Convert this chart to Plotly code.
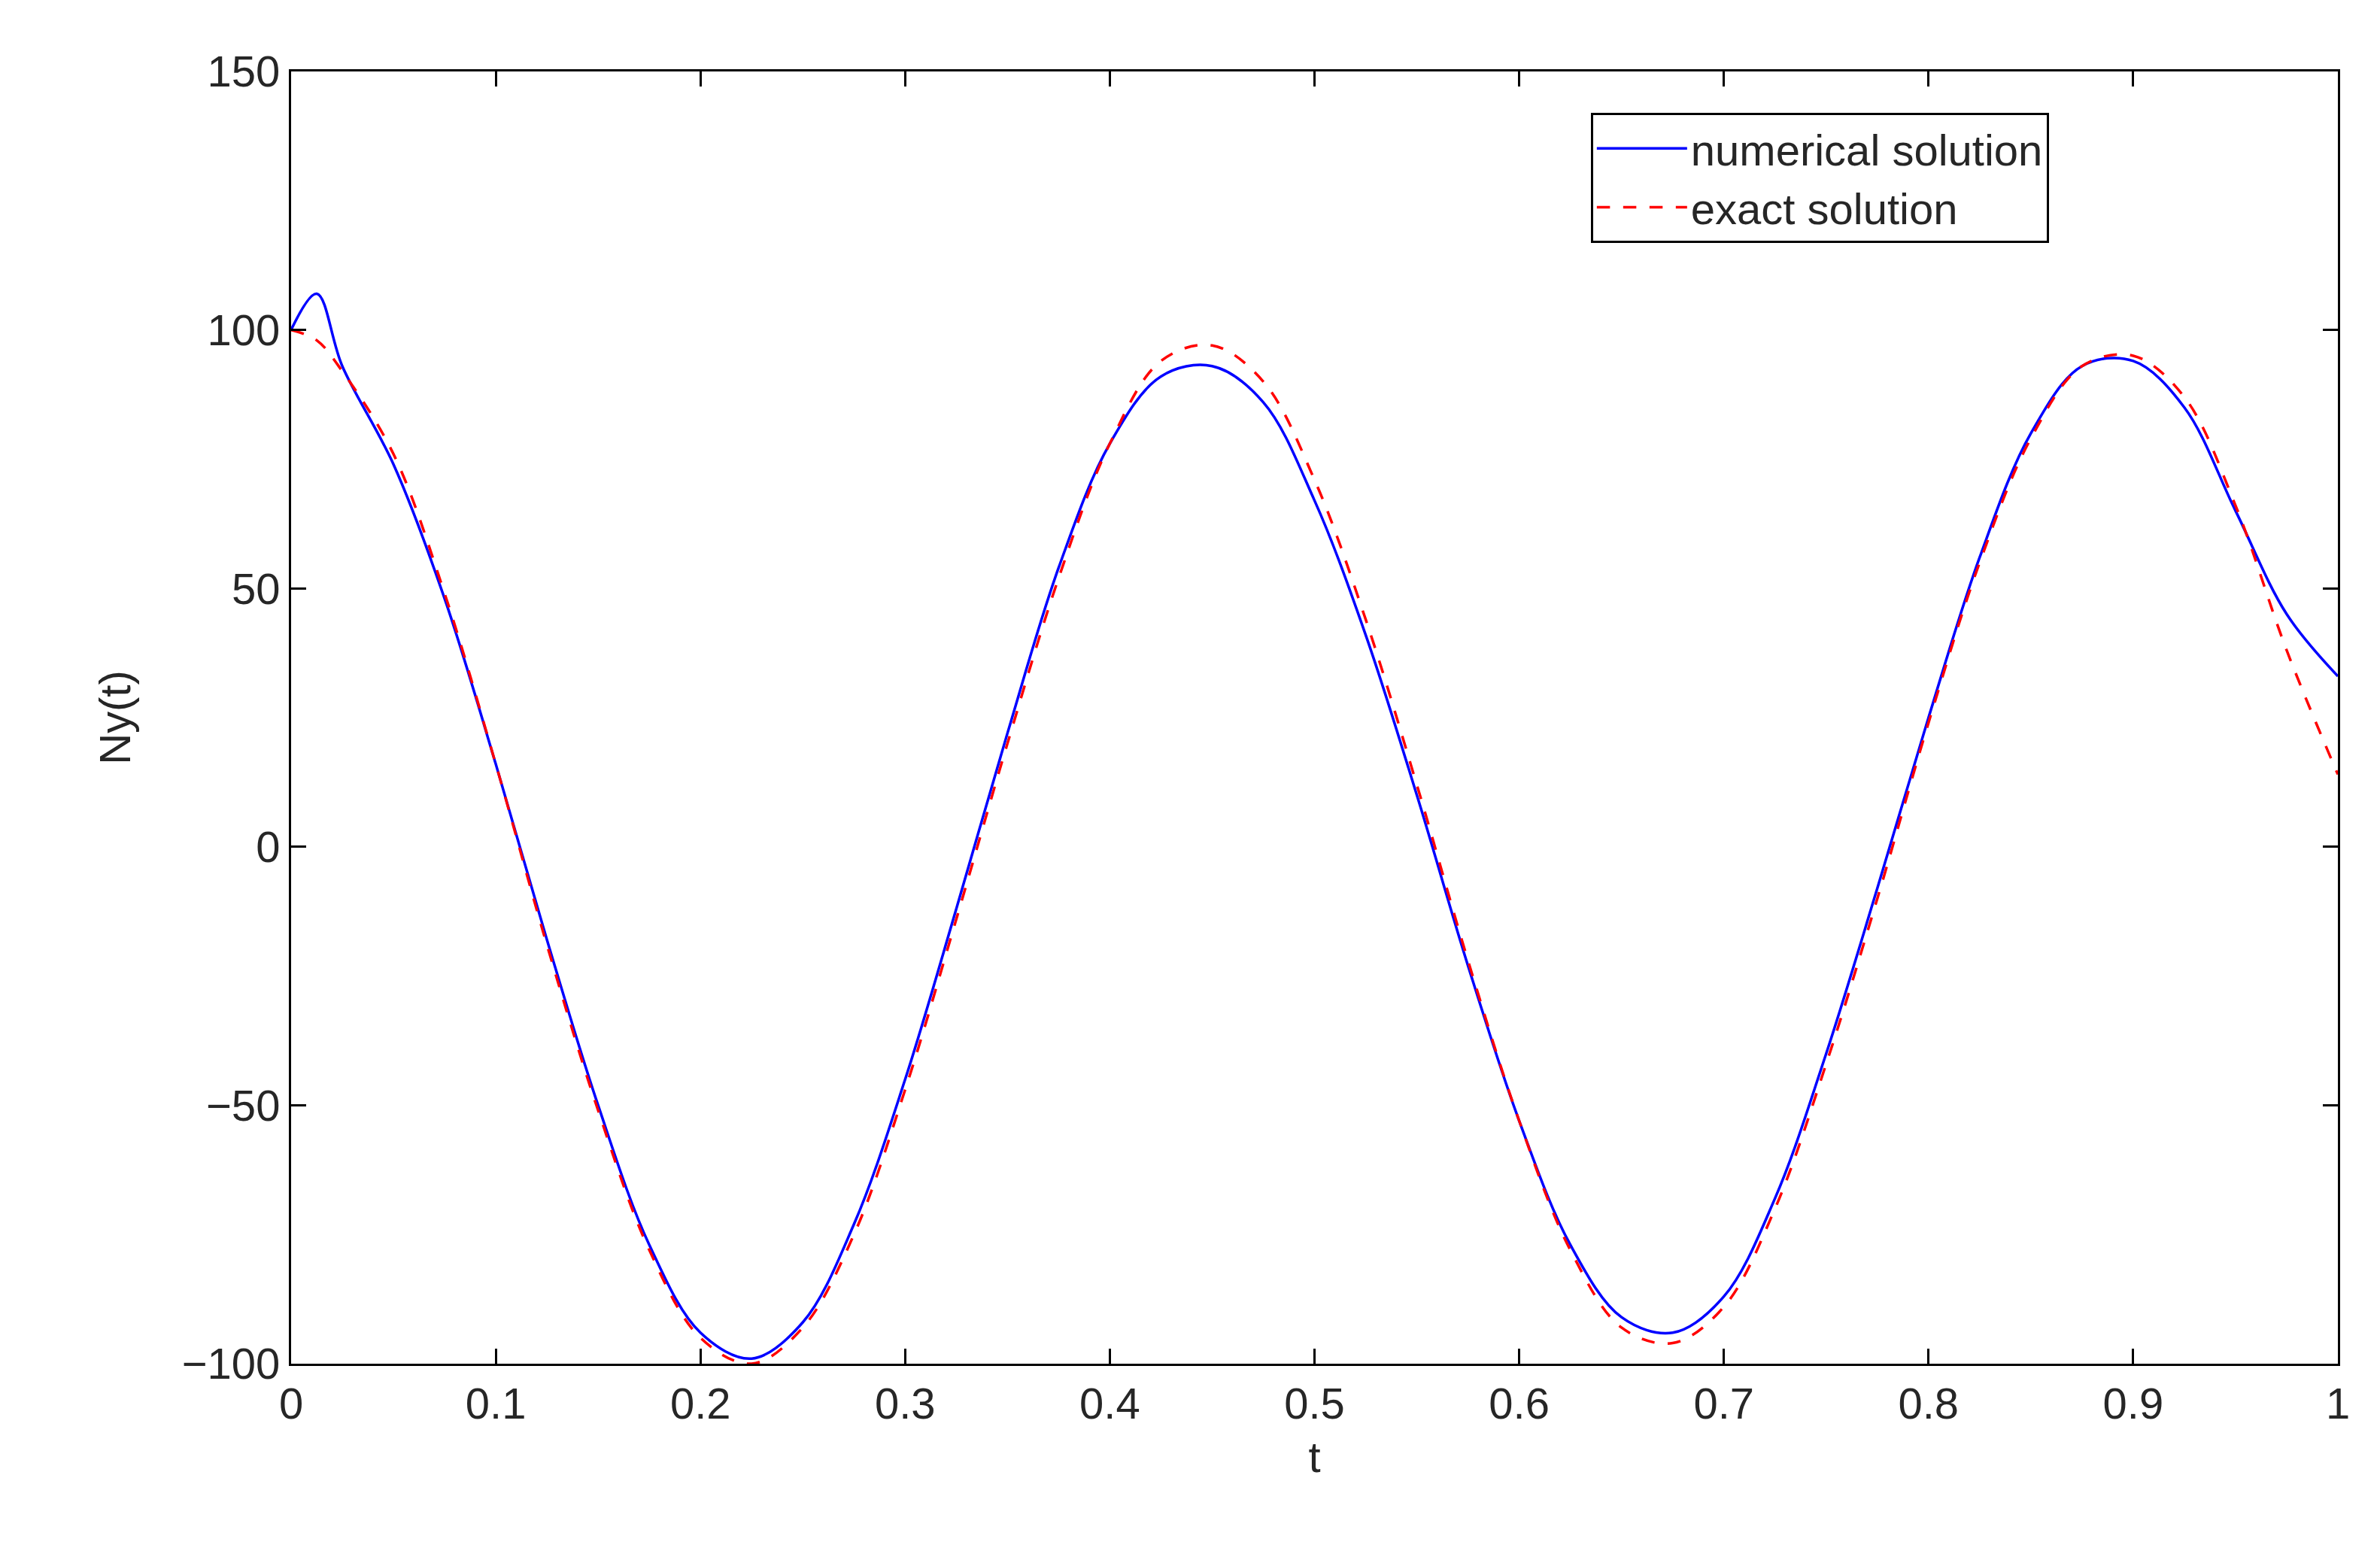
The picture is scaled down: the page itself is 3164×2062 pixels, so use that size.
import plotly.graph_objects as go

t = [0, 0.0125, 0.025, 0.05, 0.075, 0.1, 0.125, 0.15, 0.175, 0.2, 0.225, 0.25, 0.275,
     0.3, 0.325, 0.35, 0.375, 0.4, 0.425, 0.45, 0.475, 0.5, 0.525, 0.55, 0.575, 0.6,
     0.625, 0.65, 0.675, 0.7, 0.725, 0.75, 0.775, 0.8, 0.825, 0.85, 0.875, 0.9, 0.925,
     0.95, 0.975, 1.0]
exact = [100, 98, 92, 76, 49, 16, -19, -51, -78, -95, -100, -93, -75, -47, -14, 20, 52,
         78, 94, 97, 90, 71, 44, 12, -22, -53, -78, -93, -96, -89, -70, -42, -10, 24, 55,
         79, 93, 95, 87, 66, 38, 14]
numerical = [100, 107, 93, 74, 48, 16, -18, -50, -77, -94, -99, -92, -73, -45, -12, 22,
             54, 78, 91, 93, 86, 67, 41, 10, -23, -53, -77, -91, -94, -87, -68, -40, -8,
             25, 56, 80, 93, 94, 85, 65, 45, 33]

fig = go.Figure()
fig.add_trace(go.Scatter(x=t, y=numerical, mode='lines', name='numerical solution',
                         line=dict(color='blue', width=3.5, shape='spline')))
fig.add_trace(go.Scatter(x=t, y=exact, mode='lines', name='exact solution',
                         line=dict(color='red', width=3.5, dash='longdash', shape='spline')))

font = dict(family='Liberation Sans, Arial', size=58, color='#262626')
axis = dict(showline=True, mirror='ticks', linecolor='black', linewidth=3,
            ticks='inside', ticklen=20, tickwidth=3, tickcolor='black',
            showgrid=False, zeroline=False, tickfont=font)
fig.update_layout(
    width=3164, height=2062, paper_bgcolor='white', plot_bgcolor='white',
    margin=dict(l=379, r=64, t=87, b=257),
    xaxis=dict(axis, range=[0, 1], dtick=0.1, title=dict(text='t', font=font, standoff=20)),
    yaxis=dict(axis, range=[-100, 150], dtick=50, title=dict(text='Ny(t)', font=font, standoff=50)),
    legend=dict(x=0.635, y=0.968, xanchor='left', yanchor='top', font=font,
                bordercolor='black', borderwidth=3, bgcolor='white', itemwidth=120),
)
fig.write_html('out.html')
